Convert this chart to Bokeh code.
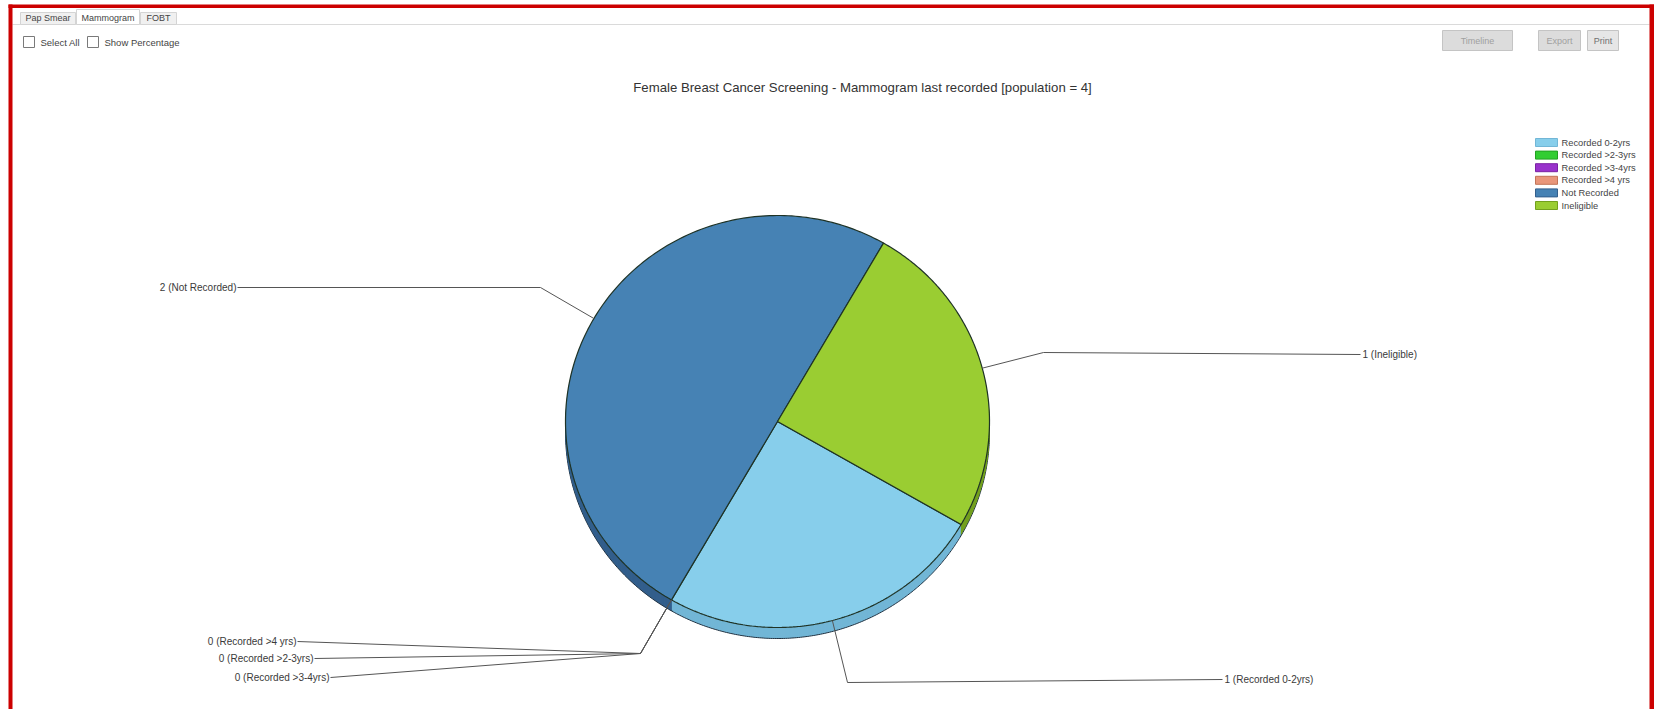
import math
import numpy as np
from bokeh.plotting import figure
from bokeh.models import Range1d, ColumnDataSource
from bokeh.core.properties import value
from bokeh.embed import file_html
from bokeh.resources import INLINE

# ---------------- data ----------------
categories = ["Recorded 0-2yrs", "Recorded >2-3yrs", "Recorded >3-4yrs",
              "Recorded >4 yrs", "Not Recorded", "Ineligible"]
counts = [1, 0, 0, 0, 2, 1]
colors = ["#87CEEB", "#32CD32", "#9932CC", "#E9967A", "#4682B4", "#9ACD32"]
side_colors = ["#72B6D6", "#23A023", "#7A22A3", "#C27458", "#335F8C", "#73A01E"]
title_text = "Female Breast Cancer Screening - Mammogram last recorded [population = 4]"
tabs = ["Pap Smear", "Mammogram", "FOBT"]
options = ["Select All", "Show Percentage"]
buttons = ["Timeline", "Export", "Print"]

# ---------------- page geometry (data units == reference pixels) ----------------
W, H = 1654, 709
def Y(y):
    return H - y

FONT = value("Liberation Sans")

p = figure(width=W, height=H, x_range=Range1d(0, W), y_range=Range1d(0, H),
           toolbar_location=None, output_backend="svg", min_border=0)
p.axis.visible = False
p.grid.visible = False
p.outline_line_color = None
p.background_fill_color = "white"
p.border_fill_color = "white"

# ---------------- UI chrome ----------------
p.segment(x0=[12], y0=[Y(24)], x1=[1649], y1=[Y(24)], line_color="#dadada", line_width=1)
tab_l = [20, 76, 140]
tab_r = [75, 139, 176]
tab_fill = ["#f0f0f0", "#ffffff", "#f0f0f0"]
tab_top = [12, 9, 12]
p.quad(left=tab_l, right=tab_r, top=[Y(t) for t in tab_top], bottom=[Y(24)] * 3,
       fill_color=tab_fill, line_color="#d4d4d4", line_width=1)
p.text(x=[(a + b) / 2 for a, b in zip(tab_l, tab_r)], y=[Y(17)] * 3, text=tabs,
       text_font=FONT, text_font_size=value("9px"), text_color="#444444",
       text_align="center", text_baseline="middle")

cb_x = [23, 87]
p.quad(left=cb_x, right=[x + 11 for x in cb_x], top=[Y(36)] * 2, bottom=[Y(47)] * 2,
       fill_color="white", line_color="#7a7a7a", line_width=1)
p.text(x=[40, 104], y=[Y(41.5)] * 2, text=options, text_font=FONT,
       text_font_size=value("9.5px"), text_color="#444444", text_baseline="middle")

bl = [1442, 1538, 1587]
br = [1512, 1580, 1618]
p.quad(left=bl, right=br, top=[Y(30)] * 3, bottom=[Y(50)] * 3,
       fill_color=["#dcdcdc", "#dcdcdc", "#e6e6e6"], line_color="#c4c4c4", line_width=1)
p.text(x=[(a + b) / 2 for a, b in zip(bl, br)], y=[Y(40)] * 3, text=buttons, text_font=FONT,
       text_font_size=value("9px"), text_color=["#a0a0a0", "#a0a0a0", "#707070"],
       text_align="center", text_baseline="middle")

p.text(x=[862], y=[Y(87)], text=[title_text], text_font=FONT, text_font_size=value("13.2px"),
       text_color="#333333", text_align="center", text_baseline="middle")

# ---------------- pie (slightly tilted ellipse with depth) ----------------
cx, cy, rx, ry = 777, 421, 212, 206
depth = 11
total = float(sum(counts))
start0 = math.radians(-30)
cum = np.concatenate([[0], np.cumsum(counts)[:-1]])
starts = [start0 - 2 * math.pi * c / total for c in cum]
ends = [s - 2 * math.pi * v / total for s, v in zip(starts, counts)]
mids = [(s + e) / 2 for s, e in zip(starts, ends)]

nz = [i for i, v in enumerate(counts) if v > 0]

def slice_poly(a0, a1, ycenter):
    t = np.linspace(a0, a1, 180)
    xs = [cx] + list(cx + rx * np.cos(t))
    ys = [Y(ycenter)] + list(Y(ycenter) + ry * np.sin(t))
    return xs, ys

for d in range(depth, 0, -1):
    polys = [slice_poly(starts[i], ends[i], cy + d) for i in nz]
    p.patches(xs=[q[0] for q in polys], ys=[q[1] for q in polys],
              fill_color=[side_colors[i] for i in nz],
              line_color="#1e3040" if d == depth else None, line_width=1)

polys = [slice_poly(starts[i], ends[i], cy) for i in nz]
p.patches(xs=[q[0] for q in polys], ys=[q[1] for q in polys],
          fill_color=[colors[i] for i in nz], line_color="#1f3326", line_width=1.2)

# ---------------- leader lines & labels ----------------
layout = {
    "Not Recorded":      dict(elbow=(540, 287), end=(237, 287), align="right"),
    "Ineligible":        dict(elbow=(1043, 352), end=(1360, 354), align="left"),
    "Recorded 0-2yrs":   dict(elbow=(847, 682), end=(1222, 679), align="left"),
    "Recorded >4 yrs":   dict(elbow=(640, 653), end=(297, 641), align="right"),
    "Recorded >2-3yrs":  dict(elbow=(640, 653), end=(314, 658), align="right"),
    "Recorded >3-4yrs":  dict(elbow=(640, 653), end=(330, 677), align="right"),
}
xs, ys = [], []
lx, ly, lt, la = [], [], [], []
for i, name in enumerate(categories):
    L = layout[name]
    ex = cx + rx * math.cos(mids[i])
    ey = Y(cy) + ry * math.sin(mids[i])
    xs.append([ex, L["elbow"][0], L["end"][0]])
    ys.append([ey, Y(L["elbow"][1]), Y(L["end"][1])])
    lx.append(L["end"][0] - 1 if L["align"] == "right" else L["end"][0] + 2)
    ly.append(Y(L["end"][1]))
    lt.append(f"{counts[i]} ({name})")
    la.append(L["align"])

p.multi_line(xs=xs, ys=ys, line_color="#555555", line_width=1)
p.text(x=lx, y=ly, text=lt, text_align=la, text_baseline="middle", text_font=FONT,
       text_font_size=value("10px"), text_color="#3a3a3a")

# ---------------- legend ----------------
leg_x0, leg_x1 = 1535, 1557
leg_y0, leg_dy = 142, 12.6
rows = [leg_y0 + k * leg_dy for k in range(len(categories))]
p.quad(left=[leg_x0] * len(categories), right=[leg_x1] * len(categories),
       top=[Y(y - 4) for y in rows], bottom=[Y(y + 4) for y in rows],
       fill_color=colors, line_color=side_colors, line_width=1)
p.text(x=[1561] * len(categories), y=[Y(y) for y in rows], text=categories,
       text_font=FONT, text_font_size=value("9.3px"), text_color="#444444",
       text_baseline="middle")

# ---------------- red frame ----------------
p.quad(left=[8, 1649, 8], right=[12, 1654, 1654], top=[Y(4), Y(4), Y(4)],
       bottom=[Y(709), Y(709), Y(7.5)], fill_color="#CC0000", line_color=None)

open("out.html", "w").write(file_html(p, INLINE))
